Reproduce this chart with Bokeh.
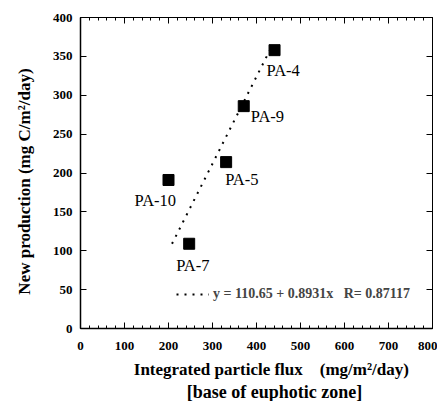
from bokeh.plotting import figure
from bokeh.models import ColumnDataSource, LinearAxis, Range1d, Legend, LegendItem, FixedTicker
from bokeh.core.properties import value
from bokeh.embed import file_html
from bokeh.resources import INLINE

# ---- data ----
stations = ["PA-10", "PA-7", "PA-5", "PA-9", "PA-4"]
flux = [200, 247, 331, 371, 441]          # integrated particle flux (mg/m2/day)
new_prod = [191, 109, 214, 286, 358]      # new production (mg C/m2/day)
fit_intercept = 110.65
fit_slope = 0.8931
fit_r = 0.87117
x_ticks = [0, 100, 200, 300, 400, 500, 600, 700, 800]
y_ticks = [0, 50, 100, 150, 200, 250, 300, 350, 400]
x_minor = list(range(0, 801, 20))

# label placement (pixel offsets from marker centre) - style only
label_dx = [-34, -13, -1, 7, -8]
label_dy = [11, 12, 8, 1, 11]

SERIF = "Liberation Serif"
NB = "\u00a0"

p = figure(frame_width=352, frame_height=311, output_backend="svg", toolbar_location=None,
           x_range=Range1d(0, 800), y_range=Range1d(0, 400),
           min_border_left=80, min_border_right=5, min_border_top=17, min_border_bottom=20)
p.grid.visible = False
p.outline_line_color = "black"
p.outline_line_width = 1
p.background_fill_color = "white"

# fit line: x = a + b*y over the data range of y
fit_y = [min(new_prod), max(new_prod)]
fit_x = [fit_intercept + fit_slope * y for y in fit_y]
fit = p.line(fit_x, fit_y, line_color="black", line_width=2, line_dash="2 6")

src = ColumnDataSource(dict(x=flux, y=new_prod, name=stations, dx=label_dx, dy=label_dy))
p.scatter("x", "y", source=src, marker="square", size=11, fill_color="black", line_color="black")
p.text("x", "y", text="name", source=src, x_offset="dx", y_offset="dy",
       text_font=value(SERIF), text_font_size="16.5px", text_baseline="top", text_align="left",
       text_color="black")

legend_label = f"y = {fit_intercept} + {fit_slope}x{NB*3}R= {fit_r}"
legend = Legend(items=[LegendItem(label=legend_label, renderers=[fit])],
                location=(96, 26), padding=0, margin=0, glyph_width=33, glyph_height=14,
                label_standoff=4, border_line_color=None, background_fill_alpha=0,
                label_text_font=SERIF, label_text_font_style="bold", label_text_font_size="14px")
p.add_layout(legend, "center")

def style_axis(ax, minor=True, width=1.5):
    ax.axis_line_width = width
    ax.axis_line_color = "black"
    ax.major_tick_in = 6
    ax.major_tick_out = 0
    ax.major_tick_line_width = 1
    if minor:
        ax.minor_tick_in = 3
        ax.minor_tick_out = 0
    else:
        ax.minor_tick_line_color = None
    ax.major_label_text_font = SERIF
    ax.major_label_text_font_style = "bold"
    ax.major_label_text_font_size = "13px"
    ax.major_label_text_color = "black"

def style_label(ax, size):
    ax.axis_label_text_font = SERIF
    ax.axis_label_text_font_style = "bold"
    ax.axis_label_text_font_size = size
    ax.axis_label_text_color = "black"

xax = p.xaxis[0]
xax.ticker = FixedTicker(ticks=x_ticks, minor_ticks=x_minor)
style_axis(xax, minor=True)
xax.major_label_standoff = 13
xax.axis_label = NB * 7 + "Integrated particle flux" + NB * 4 + "(mg/m\u00b2/day)"
style_label(xax, "17px")
xax.axis_label_standoff = 7

# second line of the x-axis title
x2 = LinearAxis(ticker=FixedTicker(ticks=[]), axis_line_color=None,
                major_tick_line_color=None, minor_tick_line_color=None)
x2.axis_label = NB * 8 + "[base of euphotic zone]"
style_label(x2, "18px")
x2.axis_label_standoff = 0
p.add_layout(x2, "below")

yax = p.yaxis[0]
yax.ticker = FixedTicker(ticks=y_ticks)
style_axis(yax, minor=False)
yax.major_label_standoff = 8
yax.axis_label = "New production (mg C/m\u00b2/day)" + NB * 4
style_label(yax, "17px")
yax.axis_label_standoff = 16

top = LinearAxis(ticker=FixedTicker(ticks=x_ticks, minor_ticks=x_minor))
style_axis(top, minor=True, width=1)
top.major_label_overrides = {t: "" for t in x_ticks}
top.major_label_standoff = 0
p.add_layout(top, "above")

right = LinearAxis(ticker=FixedTicker(ticks=y_ticks))
style_axis(right, minor=False, width=1)
right.major_label_overrides = {t: "" for t in y_ticks}
right.major_label_standoff = 0
p.add_layout(right, "right")

open("out.html", "w").write(file_html(p, INLINE))
